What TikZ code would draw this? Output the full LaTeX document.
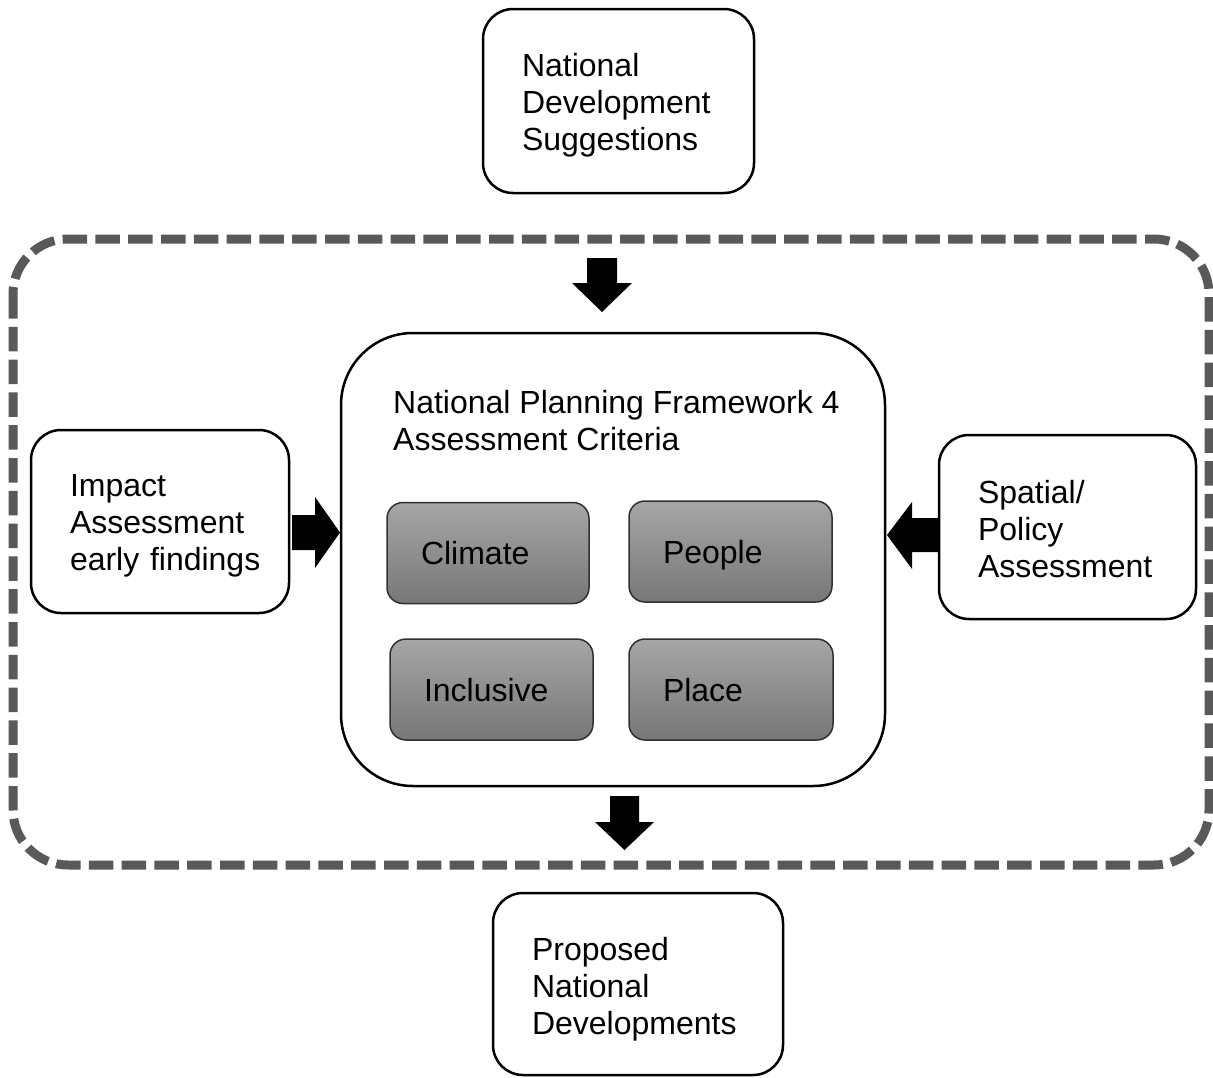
\documentclass[tikz,border=0pt]{standalone}
\usepackage{fontspec}
\setmainfont{Liberation Sans}
\definecolor{framegray}{HTML}{595959}
\definecolor{gtop}{HTML}{A6A6A6}
\definecolor{gbot}{HTML}{777777}
\definecolor{gline}{HTML}{303030}
\newcommand{\lift}[1]{\rule{0pt}{#1pt}}
\begin{document}
\begin{tikzpicture}[x=1pt,y=-1pt,
  txt/.style={font=\fontsize{32}{37}\selectfont, text=black},
  wbox/.style={txt, draw=black, line width=2.5pt, rounded corners=30pt, fill=white,
    inner xsep=39pt, inner ysep=0pt, align=left},
  gbox/.style={txt, draw=gline, line width=1.5pt, rounded corners=16pt,
    top color=gtop, bottom color=gbot, inner xsep=34pt, inner ysep=0pt, align=left,
    minimum height=101pt, text height=23pt, text depth=0pt},
  blockarrow/.style={fill=black, draw=none},
  frame/.style={draw=framegray, line width=9pt, rounded corners=55pt,
    dash pattern=on 24.5pt off 8.3pt}
]
\useasboundingbox (0,0) rectangle (1213,1077);

% dashed frame
\draw[frame] (13,239) rectangle (1209,865);

% outer boxes
\node[wbox, minimum width=271pt, minimum height=184pt, text width=193pt] (nds) at (618.5,101)
  {\lift{32}National\\Development\\Suggestions};
\node[wbox, minimum width=258pt, minimum height=183pt, text width=180pt] (ia) at (160,521.5)
  {\lift{30}Impact\\Assessment\\\mbox{early findings}};
\node[wbox, minimum width=257pt, minimum height=184pt, text width=179pt] (spa) at (1067.5,527)
  {\lift{28}Spatial/\\Policy\\Assessment};
\node[wbox, minimum width=290pt, minimum height=182pt, text width=212pt] (pnd) at (638,984)
  {\lift{34}Proposed\\National\\Developments};

% central box
\node[draw=black, line width=2.5pt, rounded corners=72pt, fill=white,
  minimum width=544pt, minimum height=453pt, inner sep=0pt] (npf) at (613,559.5) {};
\node[txt, anchor=west, inner sep=0pt, align=left] (title) at (393,420.5)
  {National Planning Framework 4\\Assessment Criteria};

% criteria boxes
\node[gbox, minimum width=202pt, text width=134pt] (climate) at (488,553) {Climate};
\node[gbox, minimum width=203pt, text width=135pt] (people) at (730.5,551.5) {People};
\node[gbox, minimum width=203pt, text width=135pt] (inclusive) at (491.5,689.5) {Inclusive};
\node[gbox, minimum width=204pt, text width=136pt] (place) at (731,689.5) {Place};

% block arrows
\fill[blockarrow] (587,258) -- (617,258) -- (617,283) -- (632,283) -- (602,312)
  -- (572,283) -- (587,283) -- cycle;
\fill[blockarrow] (292,515) -- (315,515) -- (315,497) -- (340,532.5) -- (315,568)
  -- (315,550) -- (292,550) -- cycle;
\fill[blockarrow] (938,518) -- (912,518) -- (912,502) -- (887,535) -- (912,569)
  -- (912,552) -- (938,552) -- cycle;
\fill[blockarrow] (610,796) -- (639,796) -- (639,822) -- (654,822) -- (624.5,850)
  -- (595,822) -- (610,822) -- cycle;
\end{tikzpicture}
\end{document}
